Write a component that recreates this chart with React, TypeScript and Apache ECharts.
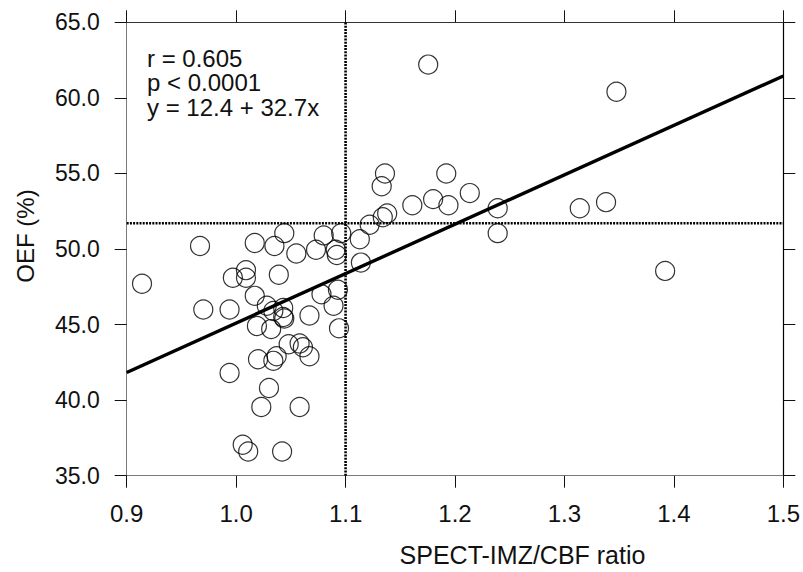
import React, { useEffect, useRef } from "react";
import * as echarts from "echarts";

const ratioX = [
  0.914, 0.967, 0.970, 0.994, 0.994, 1.017, 1.035, 1.044, 1.055, 1.073,
  1.080, 1.092, 1.096, 1.113, 1.114, 1.122, 0.997, 1.009, 1.009, 1.039,
  1.017, 1.028, 1.034, 1.043, 1.043, 1.019, 1.032, 1.044, 1.067, 1.093,
  1.078, 1.089, 1.094, 1.048, 1.058, 1.061, 1.067, 1.020, 1.034, 1.037,
  1.030, 1.023, 1.058, 1.006, 1.011, 1.042, 1.091, 1.1755, 1.3475, 1.136,
  1.133, 1.192, 1.2135, 1.161, 1.180, 1.194, 1.239, 1.314, 1.338, 1.239,
  1.392, 1.138, 1.134,
];
const oefY = [
  47.7, 50.2, 46.0, 46.0, 41.8, 50.4, 50.2, 51.05, 49.7, 49.95,
  50.9, 49.6, 51.05, 50.65, 49.1, 51.6, 48.1, 48.6, 48.1, 48.3,
  46.9, 46.25, 45.9, 46.1, 45.5, 44.9, 44.7, 45.4, 45.6, 47.3,
  47.0, 46.25, 44.75, 43.7, 43.75, 43.5, 42.9, 42.7, 42.6, 42.9,
  40.8, 39.55, 39.55, 37.05, 36.6, 36.6, 49.95, 62.2, 60.4, 55.0,
  54.15, 55.0, 53.7, 52.9, 53.3, 52.9, 52.7, 52.7, 53.1, 51.05,
  48.55, 52.35, 52.1,
];

const fitIntercept = 12.4;
const fitSlope = 32.7;
const fitRangeX = [0.9, 1.5];
const cutoffX = 1.1;
const cutoffY = 51.7;
const statLines = ["r = 0.605", "p < 0.0001", "y = 12.4 + 32.7x"];
const xTitle = "SPECT-IMZ/CBF ratio";
const yTitle = "OEF (%)";

const FONT = "'Liberation Sans', Arial, Helvetica, sans-serif";

export default function App() {
  const ref = useRef<HTMLDivElement>(null);
  useEffect(() => {
    if (!ref.current) return;
    const chart = echarts.init(ref.current, undefined, { renderer: "svg" });
    const points = ratioX.map((x, i) => [x, oefY[i]]);
    const fit = fitRangeX.map((x) => [x, fitIntercept + fitSlope * x]);
    const baseX = {
      type: "value" as const,
      min: 0.9,
      max: 1.5,
      interval: 0.1,
      splitLine: { show: false },
      axisTick: { show: true, inside: false, length: 12, lineStyle: { color: "#111", width: 1 } },
    };
    const baseY = {
      type: "value" as const,
      min: 35,
      max: 65,
      interval: 5,
      splitLine: { show: false },
      axisTick: { show: true, inside: false, length: 12, lineStyle: { color: "#111", width: 1 } },
    };
    const dotted = { color: "#000", width: 2.6, type: [2, 1.2] as number[] };
    chart.setOption({
      animation: false,
      backgroundColor: "#fff",
      textStyle: { fontFamily: FONT },
      grid: { left: 126.7, right: 19.3, top: 22.3, bottom: 96.3 },
      xAxis: [
        {
          ...baseX,
          position: "bottom",
          axisLine: { show: true, onZero: false, lineStyle: { color: "#7a7a7a", width: 1 } },
          axisLabel: {
            margin: 26,
            fontSize: 24,
            color: "#111",
            fontFamily: FONT,
            formatter: (v: number) => v.toFixed(1),
          },
        },
        {
          ...baseX,
          position: "top",
          axisLine: { show: true, onZero: false, lineStyle: { color: "#333", width: 1 } },
          axisLabel: { show: false },
        },
      ],
      yAxis: [
        {
          ...baseY,
          position: "left",
          axisLine: { show: true, onZero: false, lineStyle: { color: "#7a7a7a", width: 1 } },
          axisLabel: {
            margin: 27,
            fontSize: 23,
            color: "#111",
            fontFamily: FONT,
            formatter: (v: number) => v.toFixed(1),
          },
        },
        {
          ...baseY,
          position: "right",
          axisLine: { show: true, onZero: false, lineStyle: { color: "#000", width: 1.2 } },
          axisLabel: { show: false },
        },
      ],
      series: [
        {
          type: "line",
          data: [
            [cutoffX, 35],
            [cutoffX, 65],
          ],
          symbol: "none",
          lineStyle: dotted,
          silent: true,
          z: 1,
        },
        {
          type: "line",
          data: [
            [0.9, cutoffY],
            [1.5, cutoffY],
          ],
          symbol: "none",
          lineStyle: dotted,
          silent: true,
          z: 1,
        },
        {
          type: "line",
          data: fit,
          symbol: "none",
          lineStyle: { color: "#000", width: 3.4 },
          silent: true,
          z: 3,
        },
        {
          type: "scatter",
          data: points,
          symbol: "circle",
          symbolSize: 19,
          itemStyle: { color: "rgba(0,0,0,0)", borderColor: "#000", borderWidth: 1.2 },
          z: 2,
        },
      ],
      graphic: [
        ...statLines.map((t, i) => ({
          type: "text",
          left: 147,
          top: 58 + i * 24.8 - 12,
          style: { text: t, font: `24px ${FONT}`, fill: "#111" },
        })),
        {
          type: "text",
          x: 522.5,
          y: 555,
          style: {
            text: xTitle,
            font: `25px ${FONT}`,
            fill: "#111",
            align: "center",
            verticalAlign: "middle",
          },
        },
        {
          type: "text",
          x: 25,
          y: 236,
          rotation: Math.PI / 2,
          style: {
            text: yTitle,
            font: `24px ${FONT}`,
            fill: "#111",
            align: "center",
            verticalAlign: "middle",
          },
        },
      ],
    });
    return () => chart.dispose();
  }, []);
  return (
    <div
      ref={ref}
      style={{ position: "fixed", left: 0, top: 0, width: 803, height: 572 }}
    />
  );
}
